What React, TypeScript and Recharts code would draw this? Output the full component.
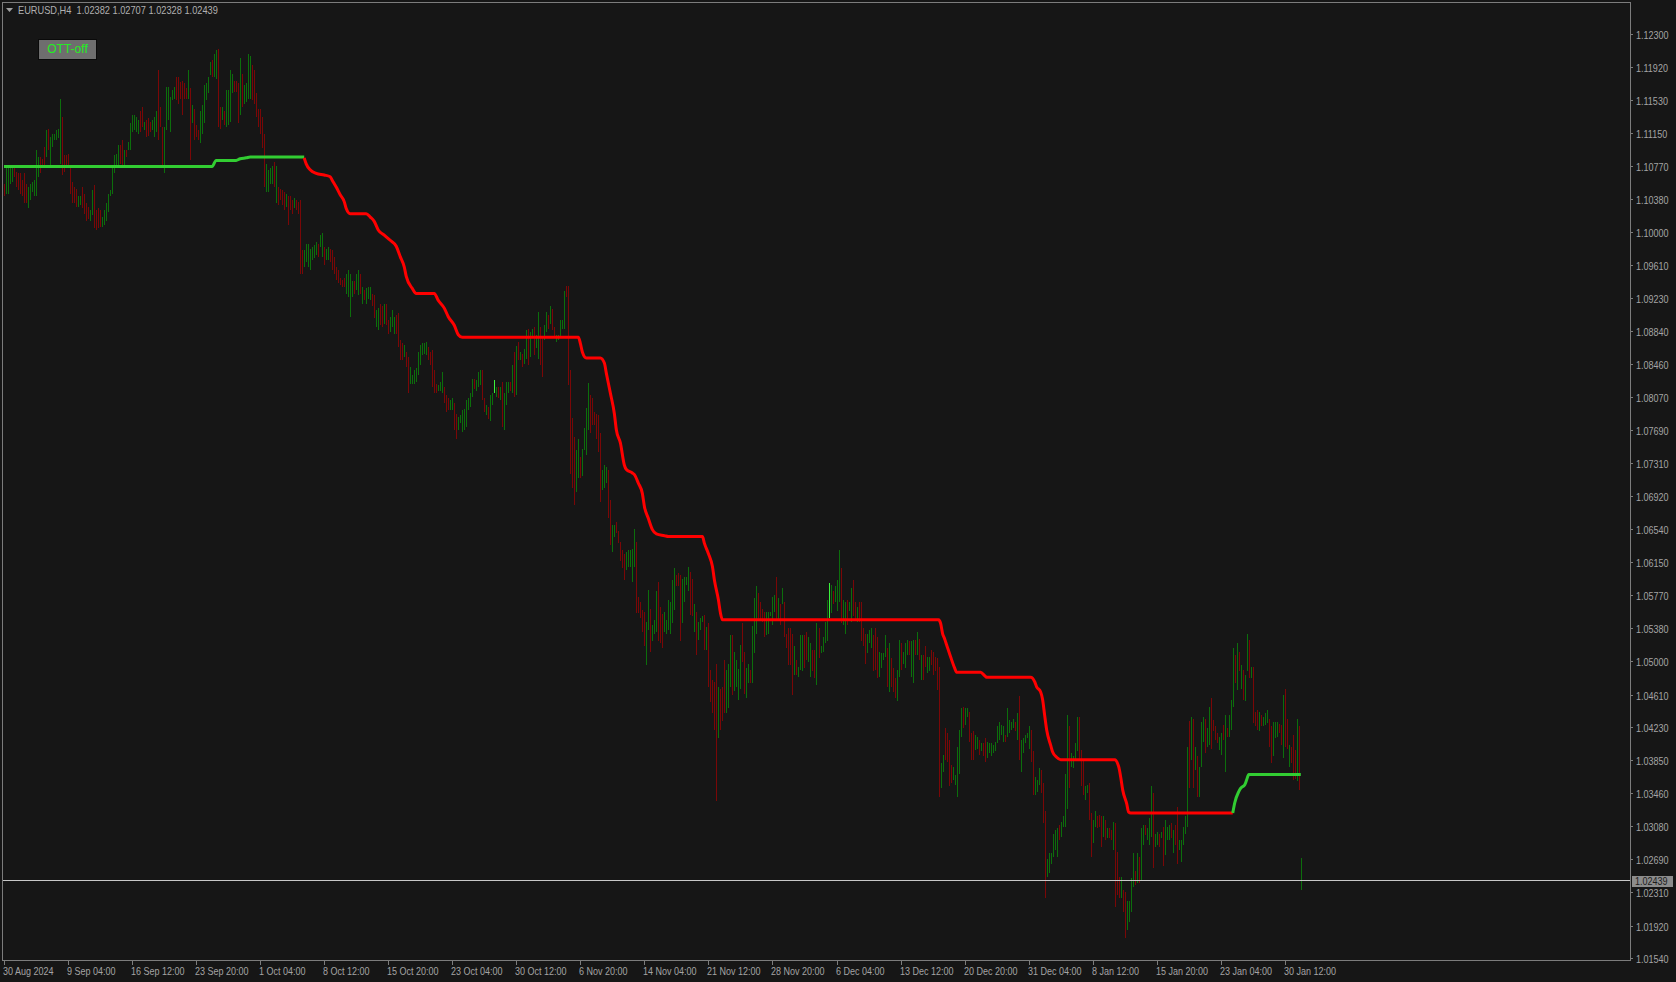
import { Bar, ComposedChart, Line, ReferenceLine, XAxis, YAxis } from 'recharts'

const BG = '#161616'
const FRAME = '#7c7c7c'
const TEXT = '#a4a4a4'
const UP = '#0c6e0c'
const DOWN = '#7a0707'
const DOJI = '#3cf03c'
const OTT_UP = '#32cd32'
const OTT_DOWN = '#ff0000'
const FONT = '"Liberation Sans", Arial, sans-serif'
// The terminal font is narrow; squeeze Liberation Sans horizontally to match.
const NARROW = 0.82

// 813 two-pixel slots across the plot; the empty ones on the right are the chart shift.
const SLOTS = 813
const LABEL_EVERY = 32

// H4 bar highs and lows in pips (1e-4).
const HIGH = [
  11056, 11076, 11074, 11077, 11074, 11074, 11070, 11068, 11068, 11060,
  11068, 11056, 11052, 11056, 11058, 11060, 11095, 11087, 11087, 11085,
  11099, 11118, 11120, 11110, 11114, 11114, 11118, 11120, 11155, 11134,
  11089, 11089, 11091, 11076, 11058, 11052, 11050, 11041, 11041, 11052,
  11044, 11033, 11029, 11025, 11048, 11054, 11025, 11027, 11025, 11017,
  11025, 11033, 11044, 11048, 11076, 11089, 11091, 11101, 11101, 11107,
  11095, 11095, 11105, 11126, 11136, 11136, 11134, 11130, 11140, 11145,
  11128, 11130, 11132, 11128, 11130, 11134, 11140, 11188, 11145, 11122,
  11122, 11169, 11169, 11157, 11165, 11169, 11180, 11180, 11174, 11176,
  11173, 11167, 11188, 11167, 11147, 11143, 11124, 11118, 11141, 11147,
  11171, 11173, 11180, 11198, 11200, 11207, 11211, 11213, 11145, 11145,
  11140, 11165, 11165, 11188, 11184, 11176, 11176, 11173, 11202, 11184,
  11171, 11173, 11207, 11205, 11194, 11188, 11161, 11143, 11143, 11134,
  11114, 11079, 11072, 11074, 11076, 11081, 11077, 11052, 11050, 11048,
  11046, 11044, 11041, 11041, 11037, 11039, 11037, 11035, 11037, 10979,
  10979, 10986, 10986, 10980, 10982, 10984, 10988, 10986, 10996, 10998,
  10982, 10980, 10982, 10980, 10979, 10971, 10959, 10955, 10946, 10944,
  10946, 10951, 10955, 10951, 10942, 10942, 10951, 10955, 10951, 10936,
  10932, 10934, 10936, 10936, 10928, 10926, 10909, 10911, 10916, 10913,
  10916, 10916, 10897, 10901, 10909, 10901, 10903, 10905, 10874, 10870,
  10868, 10860, 10854, 10843, 10833, 10839, 10841, 10860, 10868, 10870,
  10870, 10872, 10866, 10860, 10862, 10839, 10823, 10821, 10825, 10837,
  10819, 10810, 10806, 10804, 10806, 10800, 10788, 10784, 10786, 10792,
  10794, 10804, 10806, 10812, 10829, 10829, 10827, 10837, 10839, 10839,
  10806, 10798, 10796, 10810, 10812, 10827, 10819, 10819,
  10819, 10825, 10812, 10825, 10825, 10825, 10845, 10860, 10867, 10872,
  10860, 10858, 10863, 10886, 10887, 10883, 10887, 10889, 10880, 10906,
  10889, 10878, 10891, 10906, 10903, 10914, 10910, 10889, 10880, 10880,
  10897, 10897, 10931, 10937, 10937, 10839, 10783, 10761, 10746, 10759,
  10738, 10747, 10771, 10795, 10824, 10810, 10806, 10790, 10788, 10786,
  10765, 10722, 10728, 10726, 10722, 10687, 10658, 10658, 10662, 10652,
  10639, 10629, 10625, 10627, 10629, 10629, 10631, 10654, 10639, 10575,
  10569, 10559, 10557, 10546, 10583, 10561, 10542, 10548, 10581, 10592,
  10563, 10555, 10557, 10548, 10571, 10569, 10594, 10608, 10600, 10602,
  10600, 10596, 10598, 10598, 10610, 10604, 10596, 10567, 10557, 10546,
  10550, 10552, 10554, 10540, 10544, 10490, 10478, 10476, 10497, 10470,
  10468, 10470, 10501, 10490, 10497, 10530, 10530, 10511, 10501, 10491,
  10519, 10544, 10511, 10492, 10497, 10490, 10541, 10573, 10587, 10579,
  10569, 10561, 10557, 10557, 10557, 10557, 10575, 10577, 10598, 10573,
  10567, 10585, 10569, 10532, 10538, 10538, 10532, 10517, 10501, 10493,
  10530, 10530, 10530, 10534, 10528, 10521, 10513, 10513, 10544, 10538,
  10517, 10528, 10546, 10571, 10591, 10589, 10581, 10587, 10594, 10629,
  10608, 10571, 10569, 10571, 10569, 10585, 10594, 10569, 10563, 10569,
  10569, 10538, 10532, 10532, 10536, 10538, 10530, 10538, 10528, 10511,
  10509, 10509, 10530, 10515, 10521, 10503, 10492, 10480, 10490, 10525,
  10521, 10511, 10521, 10525, 10523, 10523, 10525, 10525, 10534, 10526,
  10507, 10507, 10517, 10505, 10505, 10513, 10511, 10505, 10503, 10493,
  10381, 10391, 10422, 10416, 10408, 10379, 10377, 10367, 10400, 10420,
  10445, 10447, 10445, 10445, 10441, 10416, 10418, 10414, 10412, 10408,
  10404, 10404, 10410, 10406, 10404, 10404, 10402, 10406, 10424, 10429,
  10426, 10424, 10414, 10445, 10431, 10429, 10433, 10429, 10439, 10459,
  10408, 10410, 10414, 10416, 10424, 10420, 10395, 10365, 10361, 10375,
  10373, 10358, 10325, 10270, 10276, 10276, 10299, 10303, 10305, 10309,
  10313, 10319, 10369, 10437, 10424, 10393, 10390, 10404, 10435, 10435,
  10396, 10385, 10354, 10356, 10358, 10323, 10315, 10325, 10319, 10321,
  10319, 10319, 10315, 10305, 10305, 10303, 10313, 10311, 10278, 10249,
  10249, 10233, 10231, 10220, 10220, 10247, 10277, 10255, 10276, 10272,
  10305, 10309, 10309, 10305, 10317, 10354, 10346, 10299, 10301, 10299,
  10301, 10307, 10315, 10307, 10309, 10311, 10303, 10309, 10330, 10292,
  10292, 10307, 10319, 10400, 10430, 10435, 10433, 10400, 10389, 10377,
  10429, 10435, 10433, 10422, 10447, 10457, 10431, 10424, 10416, 10412,
  10416, 10426, 10437, 10422, 10437, 10455, 10515, 10507, 10521, 10511,
  10495, 10490, 10484, 10532, 10524, 10493, 10493, 10441, 10443, 10441,
  10437, 10435, 10439, 10443, 10433, 10424, 10429, 10429, 10429, 10427,
  10426, 10461, 10468, 10433, 10402, 10400, 10414, 10396, 10433, 10424,
  10271,
]

const LOW = [
  11041, 11044, 11044, 11056, 11058, 11064, 11052, 11048, 11044, 11041,
  11033, 11033, 11027, 11037, 11046, 11041, 11041, 11064, 11068, 11074,
  11074, 11087, 11095, 11076, 11099, 11107, 11107, 11109, 11079, 11066,
  11070, 11074, 11076, 11044, 11033, 11033, 11029, 11029, 11031, 11027,
  11021, 11013, 11015, 11013, 11019, 11004, 11002, 11004, 11006, 11006,
  11008, 11013, 11023, 11041, 11044, 11068, 11074, 11076, 11079, 11074,
  11076, 11087, 11095, 11095, 11116, 11118, 11116, 11114, 11116, 11122,
  11118, 11110, 11112, 11116, 11118, 11110, 11116, 11107, 11122, 11076,
  11068, 11118, 11130, 11116, 11153, 11155, 11153, 11149, 11155, 11136,
  11155, 11155, 11155, 11083, 11126, 11107, 11110, 11107, 11103, 11114,
  11126, 11153, 11161, 11182, 11180, 11180, 11178, 11122, 11120, 11130,
  11124, 11122, 11124, 11128, 11161, 11163, 11163, 11126, 11136, 11145,
  11149, 11151, 11155, 11155, 11153, 11149, 11134, 11122, 11114, 11097,
  11052, 11046, 11046, 11056, 11056, 11052, 11033, 11031, 11037, 11031,
  11025, 11029, 11008, 11025, 11021, 11027, 11025, 11021, 10951, 10951,
  10959, 10965, 10959, 10955, 10967, 10969, 10973, 10971, 10982, 10971,
  10961, 10967, 10967, 10965, 10955, 10951, 10944, 10940, 10938, 10936,
  10936, 10928, 10924, 10901, 10924, 10928, 10932, 10926, 10928, 10916,
  10920, 10916, 10922, 10920, 10913, 10899, 10889, 10885, 10891, 10889,
  10893, 10891, 10881, 10883, 10889, 10881, 10881, 10866, 10850, 10850,
  10854, 10843, 10812, 10823, 10823, 10823, 10825, 10833, 10845, 10856,
  10858, 10856, 10850, 10845, 10819, 10812, 10812, 10815, 10814, 10812,
  10800, 10790, 10792, 10792, 10792, 10769, 10759, 10769, 10777, 10767,
  10769, 10773, 10792, 10796, 10808, 10817, 10815, 10819, 10821, 10804,
  10790, 10786, 10782, 10780, 10798, 10812, 10808, 10806,
  10804, 10773, 10769, 10798, 10812, 10814, 10812, 10808, 10810, 10850,
  10850, 10843, 10846, 10852, 10845, 10854, 10878, 10856, 10864, 10852,
  10845, 10831, 10874, 10883, 10887, 10893, 10885, 10878, 10872, 10874,
  10878, 10887, 10887, 10924, 10821, 10718, 10701, 10682, 10697, 10713,
  10713, 10716, 10746, 10740, 10769, 10765, 10775, 10775, 10759, 10744,
  10685, 10699, 10701, 10707, 10666, 10635, 10627, 10645, 10649, 10637,
  10616, 10608, 10594, 10606, 10610, 10610, 10592, 10610, 10556, 10556,
  10550, 10534, 10517, 10495, 10536, 10511, 10523, 10532, 10534, 10523,
  10521, 10515, 10534, 10532, 10536, 10532, 10544, 10559, 10587, 10587,
  10523, 10544, 10569, 10588, 10581, 10554, 10552, 10534, 10507, 10525,
  10536, 10546, 10513, 10513, 10470, 10452, 10440, 10420, 10337, 10410,
  10420, 10430, 10440, 10440, 10445, 10470, 10460, 10465, 10470, 10455,
  10468, 10499, 10462, 10457, 10474, 10474, 10474, 10509, 10532, 10548,
  10548, 10546, 10528, 10530, 10532, 10552, 10542, 10557, 10548, 10548,
  10542, 10567, 10528, 10515, 10495, 10495, 10460, 10484, 10484, 10482,
  10490, 10488, 10492, 10501, 10499, 10482, 10488, 10480, 10472, 10503,
  10509, 10511, 10521, 10523, 10550, 10556, 10567, 10569, 10558, 10569,
  10544, 10542, 10532, 10542, 10558, 10546, 10552, 10548, 10546, 10546,
  10523, 10517, 10497, 10509, 10521, 10515, 10488, 10490, 10480, 10482,
  10492, 10501, 10505, 10470, 10464, 10470, 10464, 10457, 10453, 10482,
  10490, 10497, 10492, 10507, 10507, 10482, 10474, 10507, 10507, 10501,
  10478, 10478, 10493, 10486, 10488, 10495, 10484, 10488, 10466, 10342,
  10352, 10371, 10385, 10383, 10354, 10358, 10361, 10356, 10342, 10369,
  10412, 10422, 10425, 10435, 10406, 10385, 10385, 10396, 10398, 10391,
  10395, 10389, 10383, 10387, 10393, 10389, 10393, 10395, 10404, 10408,
  10414, 10406, 10406, 10412, 10416, 10420, 10422, 10418, 10408, 10385,
  10371, 10393, 10404, 10410, 10398, 10383, 10344, 10344, 10348, 10356,
  10346, 10311, 10224, 10249, 10253, 10264, 10272, 10280, 10272, 10292,
  10295, 10307, 10307, 10328, 10352, 10377, 10375, 10385, 10395, 10385,
  10354, 10344, 10338, 10346, 10315, 10272, 10288, 10307, 10305, 10307,
  10284, 10295, 10292, 10294, 10294, 10292, 10280, 10214, 10228, 10224,
  10224, 10208, 10177, 10187, 10196, 10208, 10237, 10239, 10241, 10241,
  10245, 10286, 10297, 10292, 10286, 10295, 10259, 10284, 10286, 10284,
  10294, 10261, 10274, 10292, 10292, 10294, 10276, 10286, 10264, 10280,
  10266, 10286, 10299, 10307, 10352, 10385, 10352, 10373, 10342, 10342,
  10377, 10406, 10393, 10400, 10402, 10398, 10418, 10408, 10404, 10396,
  10391, 10408, 10371, 10412, 10412, 10420, 10447, 10474, 10466, 10488,
  10468, 10455, 10453, 10488, 10480, 10480, 10428, 10424, 10420, 10418,
  10424, 10424, 10426, 10428, 10400, 10381, 10389, 10410, 10412, 10416,
  10402, 10387, 10400, 10398, 10377, 10381, 10362, 10363, 10360, 10350,
  10233,
]

// u = close above open, d = close below open, n = doji
const DIR = [
  'duuuuddddd', 'dduuuuuudd', 'duduuuuuud', 'ddddddduud', 'ddduuddddu',
  'uuuuuuuudd', 'uduuuuuudd', 'uddduuuddd', 'uuuuuudddd', 'ddududdduu',
  'uuuuduuddu', 'duuuudddud', 'uuuudddddd', 'duuuududdd', 'dudddudddd',
  'uuuuuuuduu', 'duuddddddd', 'duuuuduudu', 'duuudduudd', 'udduuudddd',
  'udduuuuuuu', 'uuddddduuu', 'ddduudduuu', 'uuuuuduuud', 'duduunud',
  'uduuududud', 'uduuduuduu', 'dduududduu', 'uuuddddduu', 'duuuuddddd',
  'duuudduudd', 'ddduuuuudd', 'ddduuduuud', 'dduuuuuudd', 'duuuuddudu',
  'uududddddu', 'ddduuuduuu', 'udduuduuud', 'ddduuuuudu', 'dudddddudu',
  'uudduuddud', 'uuuunuduuu', 'duuduuddud', 'ddduuudddu', 'uuududdduu',
  'duuuduudud', 'udduuddddd', 'uudddduuuu', 'uduuddduud', 'udduuuuuuu',
  'uuduuuudud', 'uuuuudduuu', 'ddduuuuuud', 'uuuuduuuud', 'dduudduudd',
  'dududduddd', 'udduuuudud', 'uuduuuduud', 'uduuududdu', 'uuuudududu',
  'uuduuddddu', 'ududuuudud', 'uduududddu', 'duuudduuud', 'duddudddud',
  'u',
].join('')

// OTT line turning points [bar, pips]; the library draws the curve between them.
const OTT_GREEN_A = [
  [0, 11076], [104, 11076], [106, 11083], [116, 11083], [118, 11085],
  [121, 11086], [123, 11087], [150, 11087],
]
const OTT_RED = [
  [150, 11086], [151, 11079], [153, 11072], [156, 11068], [160, 11066],
  [163, 11064], [164, 11060], [166, 11052], [168, 11043], [170, 11035],
  [171, 11027], [173, 11021], [181, 11021], [183, 11017], [185, 11012],
  [187, 11002], [190, 10996], [193, 10990], [196, 10983], [198, 10971],
  [200, 10959], [201, 10948], [204, 10934], [206, 10928], [215, 10928],
  [217, 10920], [220, 10911], [222, 10901], [225, 10891], [227, 10880],
  [229, 10877], [287, 10877], [288, 10870], [289, 10860], [291, 10853],
  [298, 10853], [300, 10847], [301, 10835], [303, 10812], [305, 10788],
  [306, 10769], [308, 10754], [310, 10728], [311, 10723], [314, 10719],
  [315, 10717], [317, 10707], [319, 10695], [320, 10680], [322, 10666],
  [324, 10653], [326, 10648], [330, 10646], [332, 10645], [349, 10645],
  [350, 10637], [352, 10625], [354, 10610], [355, 10594], [357, 10571],
  [358, 10556], [359, 10548], [467, 10548], [468, 10544], [469, 10532],
  [470, 10526], [471, 10519], [473, 10505], [475, 10492], [476, 10487],
  [488, 10487], [490, 10483], [491, 10481], [513, 10481], [515, 10476],
  [516, 10470], [518, 10464], [519, 10455], [520, 10437], [521, 10420],
  [523, 10402], [524, 10394], [526, 10388], [528, 10385], [555, 10385],
  [557, 10377], [558, 10365], [559, 10350], [561, 10334], [562, 10324],
  [563, 10323], [614, 10323],
]
const OTT_GREEN_B = [
  [614, 10323], [615, 10335], [617, 10348], [618, 10352], [620, 10356],
  [621, 10362], [622, 10368], [648, 10368],
]

const TIME_LABELS = [
  '30 Aug 2024', '9 Sep 04:00', '16 Sep 12:00', '23 Sep 20:00', '1 Oct 04:00',
  '8 Oct 12:00', '15 Oct 20:00', '23 Oct 04:00', '30 Oct 12:00', '6 Nov 20:00',
  '14 Nov 04:00', '21 Nov 12:00', '28 Nov 20:00', '6 Dec 04:00', '13 Dec 12:00',
  '20 Dec 20:00', '31 Dec 04:00', '8 Jan 12:00', '15 Jan 20:00', '23 Jan 04:00',
  '30 Jan 12:00',
]

const PRICE_TICKS = [
  1.123, 1.1192, 1.1153, 1.1115, 1.1077, 1.1038, 1.1, 1.0961, 1.0923, 1.0884,
  1.0846, 1.0807, 1.0769, 1.0731, 1.0692, 1.0654, 1.0615, 1.0577, 1.0538, 1.05,
  1.0461, 1.0423, 1.0385, 1.0346, 1.0308, 1.0269, 1.0231, 1.0192, 1.0154,
]
const PRICE_DOMAIN = [1.01507, 1.12663]

const SYMBOL = 'EURUSD,H4'
const LAST_BAR = [1.02382, 1.02707, 1.02328, 1.02439]

type Slot = {
  i: number
  range: [number, number] | null
  dir: string
  ottA: number | null
  ottR: number | null
  ottB: number | null
}

const data: Slot[] = Array.from({ length: SLOTS }, (_, i) => ({
  i,
  range: i < HIGH.length ? [LOW[i] / 1e4, HIGH[i] / 1e4] : null,
  dir: DIR[i] ?? 'u',
  ottA: null,
  ottR: null,
  ottB: null,
}))
for (const [i, v] of OTT_GREEN_A) data[i].ottA = v / 1e4
for (const [i, v] of OTT_RED) data[i].ottR = v / 1e4
for (const [i, v] of OTT_GREEN_B) data[i].ottB = v / 1e4

function BarStick(props: any) {
  const { x, y, width, height, payload } = props
  if (!payload?.range || !Number.isFinite(y)) return null
  const top = Math.round(y)
  const bottom = Math.round(y + height)
  const fill = payload.dir === 'n' ? DOJI : payload.dir === 'd' ? DOWN : UP
  return (
    <rect
      x={Math.floor(x + width / 2)}
      y={top}
      width={1}
      height={Math.max(1, bottom - top)}
      fill={fill}
      shapeRendering="crispEdges"
    />
  )
}

function NarrowText({ x, y, fill, children }: any) {
  return (
    <text
      transform={`translate(${x} ${y}) scale(${NARROW} 1)`}
      fill={fill}
      fontSize={11}
      fontFamily={FONT}
      textAnchor="start"
    >
      {children}
    </text>
  )
}

function TimeTick({ x, y, payload }: any) {
  const label = TIME_LABELS[Math.round(payload.value / LABEL_EVERY)]
  const tx = Math.round(x)
  return (
    <g>
      <line x1={tx + 0.5} y1={y} x2={tx + 0.5} y2={y + 4} stroke={FRAME} />
      <NarrowText x={tx - 1} y={y + 14} fill={TEXT}>
        {label}
      </NarrowText>
    </g>
  )
}

function PriceTick({ x, y, payload }: any) {
  const ty = Math.round(y) + 0.5
  return (
    <g>
      <line x1={x} y1={ty} x2={x + 3} y2={ty} stroke={FRAME} />
      <NarrowText x={x + 6} y={ty + 4} fill={TEXT}>
        {payload.value.toFixed(5)}
      </NarrowText>
    </g>
  )
}

function PriceTag(props: any) {
  const { viewBox } = props
  if (!viewBox) return null
  const y = Math.round(viewBox.y)
  const left = viewBox.x + viewBox.width + 2
  return (
    <g>
      <rect x={left} y={y - 5} width={41} height={11} fill="#8c8c8c" />
      <NarrowText x={left + 3} y={y + 4} fill="#1c1c1c">
        {LAST_BAR[3].toFixed(5)}
      </NarrowText>
    </g>
  )
}

export default function App() {
  const header = `${SYMBOL}  ${LAST_BAR.map((v) => v.toFixed(5)).join(' ')}`
  return (
    <div style={{ position: 'fixed', left: 0, top: 0, width: 1676, height: 982, background: BG }}>
      <ComposedChart
        width={1676}
        height={982}
        data={data}
        margin={{ top: 3, right: 0, left: 3, bottom: 0 }}
        barCategoryGap={0}
      >
        <XAxis
          dataKey="i"
          type="category"
          height={21}
          ticks={TIME_LABELS.map((_, k) => k * LABEL_EVERY)}
          interval={0}
          axisLine={false}
          tickLine={false}
          tickSize={0}
          tickMargin={0}
          tick={<TimeTick />}
        />
        <YAxis
          orientation="right"
          type="number"
          width={46}
          domain={PRICE_DOMAIN}
          allowDataOverflow
          ticks={PRICE_TICKS}
          interval={0}
          axisLine={false}
          tickLine={false}
          tickSize={0}
          tickMargin={0}
          tick={<PriceTick />}
        />
        <Bar dataKey="range" barSize={1} shape={<BarStick />} isAnimationActive={false} />
        <ReferenceLine
          y={LAST_BAR[3]}
          stroke="#c8c8c8"
          strokeWidth={1}
          shapeRendering="crispEdges"
          label={<PriceTag />}
        />
        <Line type="monotone" dataKey="ottA" stroke={OTT_UP} strokeWidth={3} dot={false} activeDot={false} connectNulls isAnimationActive={false} />
        <Line type="monotone" dataKey="ottR" stroke={OTT_DOWN} strokeWidth={3} dot={false} activeDot={false} connectNulls isAnimationActive={false} />
        <Line type="monotone" dataKey="ottB" stroke={OTT_UP} strokeWidth={3} dot={false} activeDot={false} connectNulls isAnimationActive={false} />
      </ComposedChart>

      {/* chart frame: left/top border plus the price and time axis lines */}
      <div
        style={{
          position: 'absolute',
          left: 2,
          top: 2,
          width: 1629,
          height: 959,
          boxSizing: 'border-box',
          border: `1px solid ${FRAME}`,
          pointerEvents: 'none',
        }}
      />

      <svg style={{ position: 'absolute', left: 6, top: 8 }} width={8} height={6}>
        <polygon points="0,0 7,0 3.5,4" fill="#a0a0a0" />
      </svg>
      <div
        style={{
          position: 'absolute',
          left: 18,
          top: 3,
          fontFamily: FONT,
          fontSize: 11,
          color: '#b0b0b0',
          whiteSpace: 'pre',
          lineHeight: '14px',
          transform: 'scaleX(0.84)',
          transformOrigin: 'left top',
        }}
      >
        {header}
      </div>

      <div
        style={{
          position: 'absolute',
          left: 38,
          top: 39,
          width: 59,
          height: 21,
          boxSizing: 'border-box',
          background: '#6e6e6e',
          border: '1px solid #0a0a0a',
          color: '#22f022',
          fontFamily: FONT,
          fontSize: 12,
          lineHeight: '19px',
          textAlign: 'center',
        }}
      >
        OTT-off
      </div>
    </div>
  )
}
